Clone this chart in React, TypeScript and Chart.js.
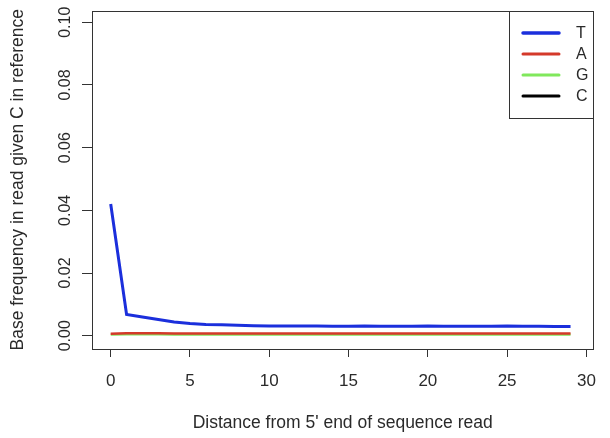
import React, { useEffect, useRef } from "react";
import { Chart, registerables } from "chart.js";

Chart.register(...registerables);

const positions = Array.from({ length: 30 }, (_, i) => i);
const seriesLabels = ["T", "A", "G", "C"];
const tValues = [
  0.042, 0.0068, 0.006, 0.0052, 0.0044, 0.0039, 0.0036, 0.0035, 0.0033, 0.0032,
  0.0031, 0.0031, 0.0031, 0.0031, 0.003, 0.003, 0.0031, 0.003, 0.003, 0.003,
  0.0031, 0.003, 0.003, 0.003, 0.003, 0.0031, 0.003, 0.003, 0.0029, 0.0029,
];
const aValues = [
  0.0006, 0.0008, 0.0008, 0.0008, 0.0007, 0.0007, 0.0007, 0.0007, 0.0007, 0.0007,
  0.0007, 0.0007, 0.0007, 0.0007, 0.0007, 0.0007, 0.0007, 0.0007, 0.0007, 0.0007,
  0.0007, 0.0007, 0.0007, 0.0007, 0.0007, 0.0007, 0.0007, 0.0007, 0.0007, 0.0007,
];
const gValues = [
  0.0004, 0.0005, 0.0005, 0.0005, 0.0004, 0.0004, 0.0004, 0.0004, 0.0004, 0.0004,
  0.0004, 0.0004, 0.0004, 0.0004, 0.0004, 0.0004, 0.0004, 0.0004, 0.0004, 0.0004,
  0.0004, 0.0004, 0.0004, 0.0004, 0.0004, 0.0004, 0.0004, 0.0004, 0.0004, 0.0004,
];
const cValues = [
  0.95, 0.99, 0.99, 0.99, 0.99, 0.99, 0.99, 0.99, 0.99, 0.99,
  0.99, 0.99, 0.99, 0.99, 0.99, 0.99, 0.99, 0.99, 0.99, 0.99,
  0.99, 0.99, 0.99, 0.99, 0.99, 0.99, 0.99, 0.99, 0.99, 0.99,
];
const xTicks = [0, 5, 10, 15, 20, 25, 30];
const yTicks = [0, 0.02, 0.04, 0.06, 0.08, 0.1];

const colors = ["#1b2fdc", "#d4392a", "#80e85c", "#000000"];
const widths = [3, 2.5, 2.5, 2.5];
const FONT = "'Liberation Sans', Arial, Helvetica, sans-serif";
const TEXT = "#2a2a2a";

const framePlugin = {
  id: "frameAndLegend",
  afterDraw(chart: any) {
    const { ctx, chartArea } = chart;
    ctx.save();
    ctx.strokeStyle = "#333";
    ctx.lineWidth = 1;
    ctx.strokeRect(
      Math.round(chartArea.left) + 0.5,
      Math.round(chartArea.top) + 0.5,
      Math.round(chartArea.right - chartArea.left),
      Math.round(chartArea.bottom - chartArea.top)
    );
    const bw = 84;
    const bh = 107;
    const bx = Math.round(chartArea.right) - bw;
    const by = Math.round(chartArea.top);
    ctx.fillStyle = "#fff";
    ctx.fillRect(bx, by, bw, bh);
    ctx.strokeRect(bx + 0.5, by + 0.5, bw, bh);
    ctx.font = `16px ${FONT}`;
    ctx.textBaseline = "middle";
    ctx.textAlign = "left";
    chart.data.datasets.forEach((ds: any, i: number) => {
      const y = by + 22 + i * 21;
      ctx.strokeStyle = ds.borderColor;
      ctx.lineWidth = i === 0 ? 3.5 : 3;
      ctx.lineCap = "round";
      ctx.beginPath();
      ctx.moveTo(bx + 14, y);
      ctx.lineTo(bx + 50, y);
      ctx.stroke();
      ctx.fillStyle = TEXT;
      ctx.fillText(ds.label, bx + 67, y + 1);
    });
    ctx.restore();
  },
};

export default function App() {
  const ref = useRef<HTMLCanvasElement>(null);
  useEffect(() => {
    if (!ref.current) return;
    const values = [tValues, aValues, gValues, cValues];
    const chart = new Chart(ref.current, {
      type: "line",
      data: {
        labels: positions,
        datasets: seriesLabels.map((label, i) => ({
          label,
          data: positions.map((p, j) => ({ x: p, y: values[i][j] })),
          borderColor: colors[i],
          backgroundColor: colors[i],
          borderWidth: widths[i],
          pointRadius: 0,
          tension: 0,
          fill: false,
        })),
      },
      options: {
        animation: false,
        responsive: false,
        events: [],
        layout: { padding: { top: 10, right: 11, left: 0, bottom: 0 } },
        plugins: { legend: { display: false }, tooltip: { enabled: false } },
        scales: {
          x: {
            type: "linear",
            min: -1.18,
            max: 30.44,
            afterBuildTicks: (s: any) => {
              s.ticks = xTicks.map((v) => ({ value: v }));
            },
            afterFit: (s: any) => {
              s.height = 89;
            },
            grid: { drawOnChartArea: false, drawTicks: true, tickLength: 8, color: "#333" },
            border: { display: false },
            ticks: {
              color: TEXT,
              font: { family: FONT, size: 17 },
              padding: 14,
              maxRotation: 0,
              minRotation: 0,
            },
            title: {
              display: true,
              text: "Distance from 5' end of sequence read",
              color: TEXT,
              font: { family: FONT, size: 17.5 },
              padding: { top: 0, bottom: 4 },
            },
          },
          y: {
            type: "linear",
            min: -0.00424,
            max: 0.10373,
            afterBuildTicks: (s: any) => {
              s.ticks = yTicks.map((v) => ({ value: v }));
            },
            afterFit: (s: any) => {
              s.width = 92;
            },
            grid: { drawOnChartArea: false, drawTicks: true, tickLength: 10, color: "#333" },
            border: { display: false },
            ticks: {
              color: TEXT,
              font: { family: FONT, size: 16 },
              padding: 1,
              minRotation: 90,
              maxRotation: 90,
              crossAlign: "center",
              callback: (v: any) => Number(v).toFixed(2),
            },
            title: {
              display: true,
              text: "Base frequency in read given C in reference",
              color: TEXT,
              font: { family: FONT, size: 17.5 },
              padding: { top: 8, bottom: 0 },
            },
          },
        },
      },
      plugins: [framePlugin],
    } as any);
    return () => chart.destroy();
  }, []);
  return (
    <div style={{ position: "fixed", left: 0, top: 0, width: 610, height: 438, background: "#fff" }}>
      <canvas ref={ref} width={610} height={438} style={{ width: 610, height: 438 }} />
    </div>
  );
}
